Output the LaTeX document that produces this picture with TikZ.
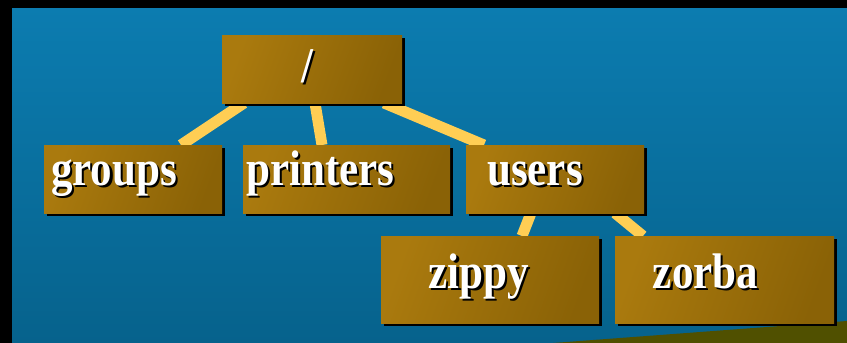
\documentclass[tikz,border=0pt]{standalone}
\usepackage{graphicx}
\usepackage{fontspec}
\setmainfont{Liberation Serif}
\usetikzlibrary{calc,shadows}
\pgfdeclarelayer{bg}
\pgfdeclarelayer{lines}
\pgfsetlayers{bg,lines,main}
\definecolor{blueA}{RGB}{12,124,176}
\definecolor{blueB}{RGB}{6,98,140}
\definecolor{goldA}{RGB}{170,122,14}
\definecolor{goldB}{RGB}{138,98,6}
\definecolor{linkc}{RGB}{255,206,84}
\definecolor{olive}{RGB}{80,80,0}
\newcommand\dropsh[1]{\scalebox{0.86}[1]{\makebox[0pt][l]{\hspace{2.5pt}\raisebox{-2.5pt}{\color{black}#1}}#1}}
\tikzset{
  dirbox/.style={minimum width=#1, inner sep=0, outer sep=0,
    left color=goldA, right color=goldB, shading angle=70,
    drop shadow={fill=black, opacity=1, shadow xshift=3pt, shadow yshift=-3pt}},
  lbl/.style={text=white, font=\bfseries\fontsize{50}{50}\selectfont, inner sep=0, anchor=base},
  link/.style={draw=linkc, line width=11pt}
}
\begin{document}
\begin{tikzpicture}[x=1pt,y=-1pt]
\useasboundingbox (0,0) rectangle (847,343);
\begin{pgfonlayer}{bg}
\fill[black] (0,0) rectangle (847,343);
\shade[top color=blueA, bottom color=blueB] (12,8) rectangle (847,343);
\fill[olive] (553,343) -- (847,321) -- (847,343) -- cycle;
\end{pgfonlayer}
% boxes
\node[dirbox=180pt, minimum height=68pt] (root) at (312,69) {};
\node[dirbox=178pt, minimum height=68pt] (groups) at (133,179) {};
\node[dirbox=207pt, minimum height=68pt] (printers) at (346.5,179) {};
\node[dirbox=178pt, minimum height=68pt] (users) at (555,179) {};
\node[dirbox=218pt, minimum height=87pt] (zippy) at (490,279.5) {};
\node[dirbox=219pt, minimum height=87pt] (zorba) at (724.5,279.5) {};
% labels
\node[lbl] (troot) at ($(root.center)+(-5,13)$) {\dropsh{/}};
\node[lbl] (tgroups) at ($(groups.center)+(-19,6)$) {\dropsh{groups}};
\node[lbl] (tprinters) at ($(printers.center)+(-26,6)$) {\dropsh{printers}};
\node[lbl] (tusers) at ($(users.center)+(-20,6)$) {\dropsh{users}};
\node[lbl] (tzippy) at ($(zippy.center)+(-11,8.5)$) {\dropsh{zippy}};
\node[lbl] (tzorba) at ($(zorba.center)+(-19,8.5)$) {\dropsh{zorba}};
% connectors
\begin{pgfonlayer}{lines}
\draw[link] ($(root.south west)+(22,0)$) -- ($(groups.north west)+(137,0)$);
\draw[link] ($(root.south west)+(93,0)$) -- ($(printers.north west)+(79,0)$);
\draw[link] ($(root.south west)+(162,0)$) -- ($(users.north west)+(18,0)$);
\draw[link] ($(users.south west)+(65,0)$) -- ($(zippy.north west)+(141,0)$);
\draw[link] ($(users.south west)+(149,0)$) -- ($(zorba.north west)+(28,0)$);
\end{pgfonlayer}
\end{tikzpicture}
\end{document}
